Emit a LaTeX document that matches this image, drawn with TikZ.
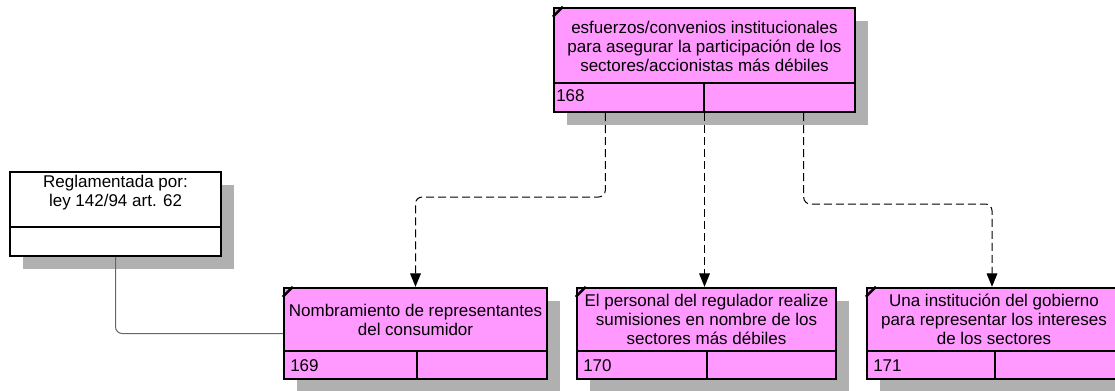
\documentclass[tikz,border=0pt]{standalone}
\usepackage{fontspec}
\setmainfont{Liberation Sans}
\usetikzlibrary{arrows.meta,calc,fit,shadows}
\definecolor{pinkbox}{RGB}{255,153,255}
\definecolor{shadowgray}{RGB}{176,176,176}
\begin{document}
\begin{tikzpicture}[x=0.75pt,y=-0.75pt,
  font=\fontsize{12.75}{14.25}\selectfont,
  box/.style={draw=black, line width=1.8pt, fill=pinkbox, inner sep=0pt,
    drop shadow={shadow xshift=9.75pt, shadow yshift=-9.75pt, fill=shadowgray, opacity=1}},
  wbox/.style={box, fill=white},
  cellline/.style={draw=black, line width=1.8pt},
  tick/.style={draw=black, line width=1.8pt},
  lbl/.style={align=center, inner sep=0pt},
  num/.style={anchor=west, inner sep=0pt},
  dep/.style={draw=black, line width=0.75pt, dash pattern=on 6pt off 3pt,
    rounded corners=5pt, -{Triangle[width=8pt,length=10pt]}},
  link/.style={draw=black!60, line width=0.75pt, rounded corners=5pt}]
\useasboundingbox (0,0) rectangle (1115,390);
\clip (0,0) rectangle (1115,390);

% boxes
\node[box, fit={(554,8) (855,112)}] (b168) {};
\node[wbox, fit={(10,172) (221,256)}] (breg) {};
\node[box, fit={(284,288) (547,379)}] (b169) {};
\node[box, fit={(577,288) (836,379)}] (b170) {};
\node[box, fit={(867,288) (1117,379)}] (b171) {};

% cell lines
\draw[cellline] (554,83) -- (855,83) (704,83) -- (704,112);
\draw[cellline] (10,227) -- (221,227);
\draw[cellline] (284,351) -- (547,351) (417,351) -- (417,379);
\draw[cellline] (577,351) -- (836,351) (707,351) -- (707,379);
\draw[cellline] (867,351) -- (1117,351) (995,351) -- (995,379);

% corner ticks
\foreach \b in {b168,b169,b170,b171}
  \draw[tick] ($(\b.north west)+(0,10)$) -- ($(\b.north west)+(10,0)$);

% texts
\node[lbl] (t168) at (704.5,46) {esfuerzos/convenios institucionales\\para asegurar la participación de los\\sectores/accionistas más débiles};
\node[lbl] (treg) at (115.5,193) {Reglamentada por:\\ley 142/94 art. 62};
\node[lbl] (t169) at (415.5,320) {Nombramiento de representantes\\del consumidor};
\node[lbl] (t170) at (706.5,319) {El personal del regulador realize\\sumisiones en nombre de los\\sectores más débiles};
\node[lbl] (t171) at (994,319) {Una institución del gobierno\\para representar los intereses\\de los sectores};

\node[num] (n168) at (556,96) {168};
\node[num] (n169) at (290,366) {169};
\node[num] (n170) at (583,366) {170};
\node[num] (n171) at (873,366) {171};

% connectors
\coordinate (s1) at ($(b168.south west)!0.173!(b168.south east)$);
\coordinate (s3) at ($(b168.south west)!0.827!(b168.south east)$);
\coordinate (h1) at (0,197);
\coordinate (h3) at (0,204);
\draw[dep] (s1) -- (s1 |- h1) -| (b169.north);
\draw[dep] (b168.south) -- (b168.south |- b170.north);
\draw[dep] (s3) -- (s3 |- h3) -| (b171.north);
\draw[link] (breg.south) |- (b169.west);
\end{tikzpicture}
\end{document}
